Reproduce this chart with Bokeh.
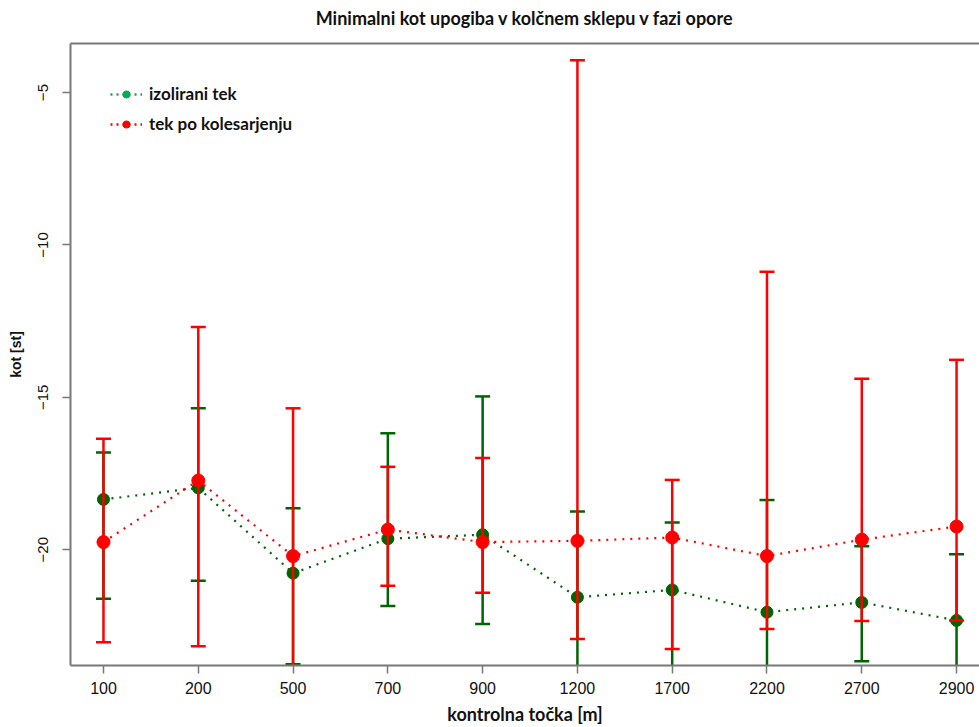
import math
from bokeh.plotting import figure
from bokeh.models import (ColumnDataSource, FixedTicker, Legend, LegendItem, Range1d, LinearAxis)
from bokeh.embed import file_html
from bokeh.resources import INLINE

TITLE = "Minimalni kot upogiba v kolčnem sklepu v fazi opore"

# control points along the route [m]
points = ["100", "200", "500", "700", "900", "1200", "1700", "2200", "2700", "2900"]

# isolated run
iso_mean = [-18.35, -17.97, -20.77, -19.64, -19.51, -21.56, -21.32, -22.05, -21.73, -22.32]
iso_upper = [-16.81, -15.36, -18.64, -16.18, -14.97, -18.75, -19.11, -18.37, -19.89, -20.15]
iso_lower = [-21.61, -21.02, -23.76, -21.85, -22.44, -24.40, -24.20, -25.30, -23.66, -24.60]

# run after cycling
cyc_mean = [-19.75, -17.73, -20.21, -19.34, -19.75, -19.71, -19.60, -20.21, -19.67, -19.24]
cyc_upper = [-16.36, -12.69, -15.36, -17.28, -16.99, -3.94, -17.71, -10.88, -14.39, -13.77]
cyc_lower = [-23.04, -23.17, -25.10, -21.18, -21.41, -22.93, -23.26, -22.60, -22.34, -22.32]

y_ticks = [-5, -10, -15, -20]

xpos = list(range(1, len(points) + 1))

iso_src = ColumnDataSource(dict(x=xpos, m=iso_mean, lo=iso_lower, hi=iso_upper))
cyc_src = ColumnDataSource(dict(x=xpos, m=cyc_mean, lo=cyc_lower, hi=cyc_upper))

GREEN = "#006400"
RED = "#ff0000"
LEG_GREEN = "#00b050"
AXIS = "#787878"

p = figure(width=979, height=727, output_backend="svg", toolbar_location=None,
           x_range=Range1d(0.652, 10.242), y_range=Range1d(-23.8, -3.39),
           min_border_left=70, min_border_right=0, min_border_top=43, min_border_bottom=62)
p.outline_line_color = None
p.grid.visible = False
p.background_fill_color = "white"

bottom_axis = p.below[0]
left_axis = p.left[0]

# isolated run: bars, line, points
p.segment(x0="x", y0="lo", x1="x", y1="hi", source=iso_src, line_color=GREEN, line_width=2.5)
p.scatter(x="x", y="hi", source=iso_src, marker="dash", size=15, line_color=GREEN, line_width=2.5)
p.scatter(x="x", y="lo", source=iso_src, marker="dash", size=15, line_color=GREEN, line_width=2.5)
p.line(x="x", y="m", source=iso_src, line_color=GREEN, line_width=2.2, line_dash="2 6")
p.scatter(x="x", y="m", source=iso_src, size=12, fill_color=GREEN, line_color=GREEN)

# run after cycling: bars, line, points
p.segment(x0="x", y0="lo", x1="x", y1="hi", source=cyc_src, line_color=RED, line_width=2.5)
p.scatter(x="x", y="hi", source=cyc_src, marker="dash", size=15, line_color=RED, line_width=2.5)
p.scatter(x="x", y="lo", source=cyc_src, marker="dash", size=15, line_color=RED, line_width=2.5)
p.line(x="x", y="m", source=cyc_src, line_color=RED, line_width=2.2, line_dash="2 6")
p.scatter(x="x", y="m", source=cyc_src, size=13, fill_color=RED, line_color=RED)

# axes
for ax in (bottom_axis, left_axis):
    ax.axis_line_color = AXIS
    ax.axis_line_width = 2
    ax.major_tick_line_color = AXIS
    ax.major_tick_line_width = 1.5
    ax.major_tick_out = 8
    ax.major_tick_in = 0
    ax.minor_tick_line_color = None
    ax.major_label_text_font = "Liberation Sans"
    ax.major_label_text_font_size = "16px"
    ax.major_label_text_color = "#111111"

bottom_axis.ticker = FixedTicker(ticks=xpos)
bottom_axis.major_label_overrides = {i: lab for i, lab in zip(xpos, points)}
bottom_axis.major_label_standoff = 8
bottom_axis.axis_label = "kontrolna točka [m]"
bottom_axis.axis_label_text_font = "Lato"
bottom_axis.axis_label_text_font_style = "bold"
bottom_axis.axis_label_text_font_size = "18px"
bottom_axis.axis_label_text_color = "#111111"
bottom_axis.axis_label_standoff = 6

left_axis.ticker = FixedTicker(ticks=y_ticks)
left_axis.major_label_orientation = "vertical"
left_axis.major_label_text_font_size = "15px"
left_axis.major_label_standoff = 14
left_axis.axis_label = "kot [st]"
left_axis.axis_label_text_font = "Liberation Sans"
left_axis.axis_label_text_font_style = "bold"
left_axis.axis_label_text_font_size = "14px"
left_axis.axis_label_text_color = "#111111"
left_axis.axis_label_standoff = 12

# top edge of the box, carrying the chart title
top_axis = LinearAxis(ticker=FixedTicker(ticks=[]), axis_label=TITLE,
                      axis_line_color=AXIS, axis_line_width=2,
                      major_tick_line_color=None, minor_tick_line_color=None,
                      major_tick_out=0, major_tick_in=0, major_label_standoff=0,
                      axis_label_text_font="Lato", axis_label_text_font_style="bold",
                      axis_label_text_font_size="18px", axis_label_text_color="#111111",
                      axis_label_standoff=15)
p.add_layout(top_axis, "above")

# legend swatches
nan = [math.nan]
leg_src = ColumnDataSource(dict(x=nan, y=nan))
lg1 = p.line(x="x", y="y", source=leg_src, line_color=LEG_GREEN, line_width=2.5, line_dash="2 4")
sg1 = p.scatter(x="x", y="y", source=leg_src, size=8, fill_color=LEG_GREEN, line_color=LEG_GREEN)
lg2 = p.line(x="x", y="y", source=leg_src, line_color=RED, line_width=2.5, line_dash="2 4")
sg2 = p.scatter(x="x", y="y", source=leg_src, size=8, fill_color=RED, line_color=RED)

legend = Legend(items=[LegendItem(label="izolirani tek", renderers=[lg1, sg1]),
                       LegendItem(label="tek po kolesarjenju", renderers=[lg2, sg2])],
                location="top_left", margin=40, padding=0, spacing=9,
                glyph_width=32, glyph_height=18, label_height=18, label_standoff=7,
                border_line_color=None, background_fill_alpha=0,
                label_text_font="Lato", label_text_font_style="bold",
                label_text_font_size="17px", label_text_color="#111111")
p.add_layout(legend, "center")

open("out.html", "w").write(file_html(p, INLINE))
